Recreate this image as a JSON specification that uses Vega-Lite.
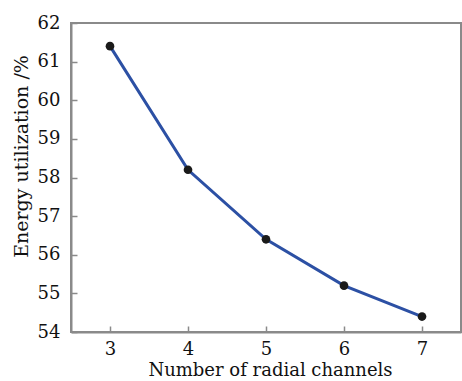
{
  "$schema": "https://vega.github.io/schema/vega-lite/v6.json",
  "autosize": "none",
  "width": 390,
  "height": 309,
  "padding": {"left": 71, "top": 23, "right": 1, "bottom": 49},
  "background": "white",
  "config": {
    "view": {"stroke": "#8a8a8a", "strokeWidth": 2},
    "axis": {
      "font": "DejaVu Serif",
      "labelFont": "DejaVu Serif",
      "titleFont": "DejaVu Serif",
      "labelColor": "#111",
      "titleColor": "#111",
      "labelFontSize": 18,
      "titleFontSize": 18,
      "titleFontWeight": "normal",
      "domainColor": "#8a8a8a",
      "domainWidth": 2,
      "tickColor": "#8a8a8a",
      "tickWidth": 1.5,
      "tickSize": -6,
      "grid": false
    }
  },
  "data": {
    "values": [
      {"channels": 3, "utilization": 61.4},
      {"channels": 4, "utilization": 58.2},
      {"channels": 5, "utilization": 56.4},
      {"channels": 6, "utilization": 55.2},
      {"channels": 7, "utilization": 54.4}
    ]
  },
  "encoding": {
    "x": {
      "field": "channels",
      "type": "quantitative",
      "scale": {"domain": [2.5, 7.5], "nice": false, "zero": false},
      "axis": {
        "title": "Number of radial channels",
        "values": [3, 4, 5, 6, 7],
        "labelPadding": 14,
        "titleX": 199,
        "titleY": 43,
        "titleBaseline": "alphabetic"
      }
    },
    "y": {
      "field": "utilization",
      "type": "quantitative",
      "scale": {"domain": [54, 62], "nice": false, "zero": false},
      "axis": {
        "title": "Energy utilization /%",
        "values": [54, 55, 56, 57, 58, 59, 60, 61, 62],
        "labelPadding": 17,
        "titleFontSize": 19,
        "titleX": -40,
        "titleY": 133,
        "titleBaseline": "bottom"
      }
    }
  },
  "layer": [
    {"mark": {"type": "line", "color": "#2c50a4", "strokeWidth": 3}},
    {"mark": {"type": "point", "filled": true, "color": "#1a1a1a", "size": 75, "opacity": 1}}
  ]
}
